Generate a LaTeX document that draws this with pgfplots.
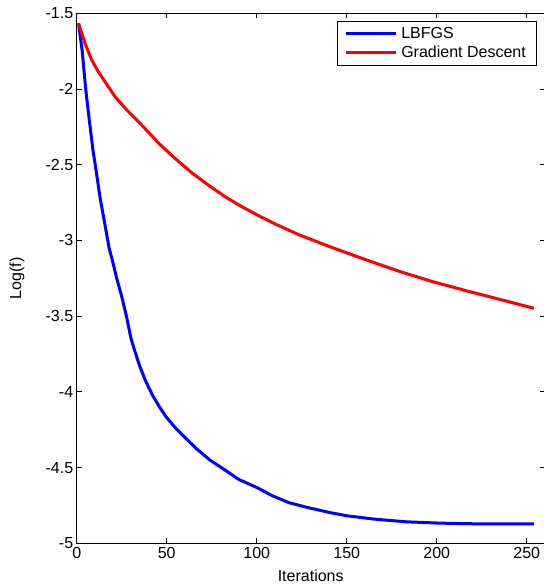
\documentclass[border=0pt]{standalone}
\usepackage{fontspec}
\setmainfont{Liberation Sans}
\usepackage{pgfplots}
\pgfplotsset{compat=1.18}
\begin{document}
\begin{tikzpicture}
\begin{axis}[
  name=ax,
  scale only axis,
  width=468pt, height=530pt,
  xmin=0, xmax=260, ymin=-5, ymax=-1.5,
  xtick={0,50,100,150,200,250},
  ytick={-5,-4.5,-4,-3.5,-3,-2.5,-2,-1.5},
  yticklabels={-5,-4.5,-4,-3.5,-3,-2.5,-2,-1.5},
  tick align=inside,
  major tick length=5pt,
  axis line style={line width=1pt},
  tick style={line width=0.8pt, black},
  /pgf/number format/assume math mode=true,
  tick label style={font=\fontsize{16}{19}\selectfont},
  label style={font=\fontsize{16}{19}\selectfont},
  xlabel={Iterations},
  ylabel={Log(f)},
  xlabel style={at={(axis description cs:0.5,-0.061)}, anchor=center},
  ylabel style={at={(axis description cs:-0.1276,0.5)}, anchor=center},
  legend cell align=left,
  legend image code/.code={\draw[#1] (0pt,0pt) -- (50pt,0pt);},
  legend style={font=\fontsize{16}{19}\selectfont, at={(1,1)}, anchor=north east,
    xshift=-7.5pt, yshift=-7.5pt, draw=black, line width=0.8pt,
    inner xsep=7pt, inner ysep=4pt, row sep=2pt,
    nodes={inner xsep=4pt}},
]
\addplot[blue, line width=3pt] coordinates {
(1,-1.566) (3,-1.742) (5,-2.0) (7,-2.205) (9,-2.40) (11,-2.557) (13,-2.72)
(15,-2.85) (18,-3.05) (20,-3.14) (22,-3.24) (25,-3.37) (28,-3.52) (30,-3.64)
(32,-3.72) (35,-3.83) (38,-3.92) (42,-4.02) (46,-4.10) (50,-4.17) (55,-4.24)
(60,-4.30) (67,-4.38) (74,-4.45) (81,-4.505) (90,-4.578) (100,-4.631)
(109,-4.688) (118,-4.732) (128,-4.763) (141,-4.798) (150,-4.818) (165,-4.84)
(183,-4.858) (202,-4.867) (220,-4.871) (239,-4.872) (254,-4.872)
};
\addlegendentry{LBFGS}
\addplot[red, line width=3pt] coordinates {
(1,-1.566) (4.6,-1.698) (8.3,-1.808) (12,-1.886) (17.6,-1.985) (21.3,-2.051)
(28.7,-2.15) (36.1,-2.238) (45.3,-2.355) (54.6,-2.458) (63.9,-2.553)
(73.1,-2.634) (82.4,-2.711) (91.7,-2.777) (101,-2.836) (110,-2.89)
(124,-2.965) (142.6,-3.05) (161,-3.129) (180,-3.207) (198,-3.273)
(217,-3.334) (235,-3.389) (254,-3.448)
};
\addlegendentry{Gradient Descent}
\end{axis}
\pgfresetboundingbox
\path[use as bounding box] ([shift={(-76.7pt,-41.7pt)}]ax.south west) rectangle ([shift={(-1.7pt,13.3pt)}]ax.north east);
\end{tikzpicture}
\end{document}
